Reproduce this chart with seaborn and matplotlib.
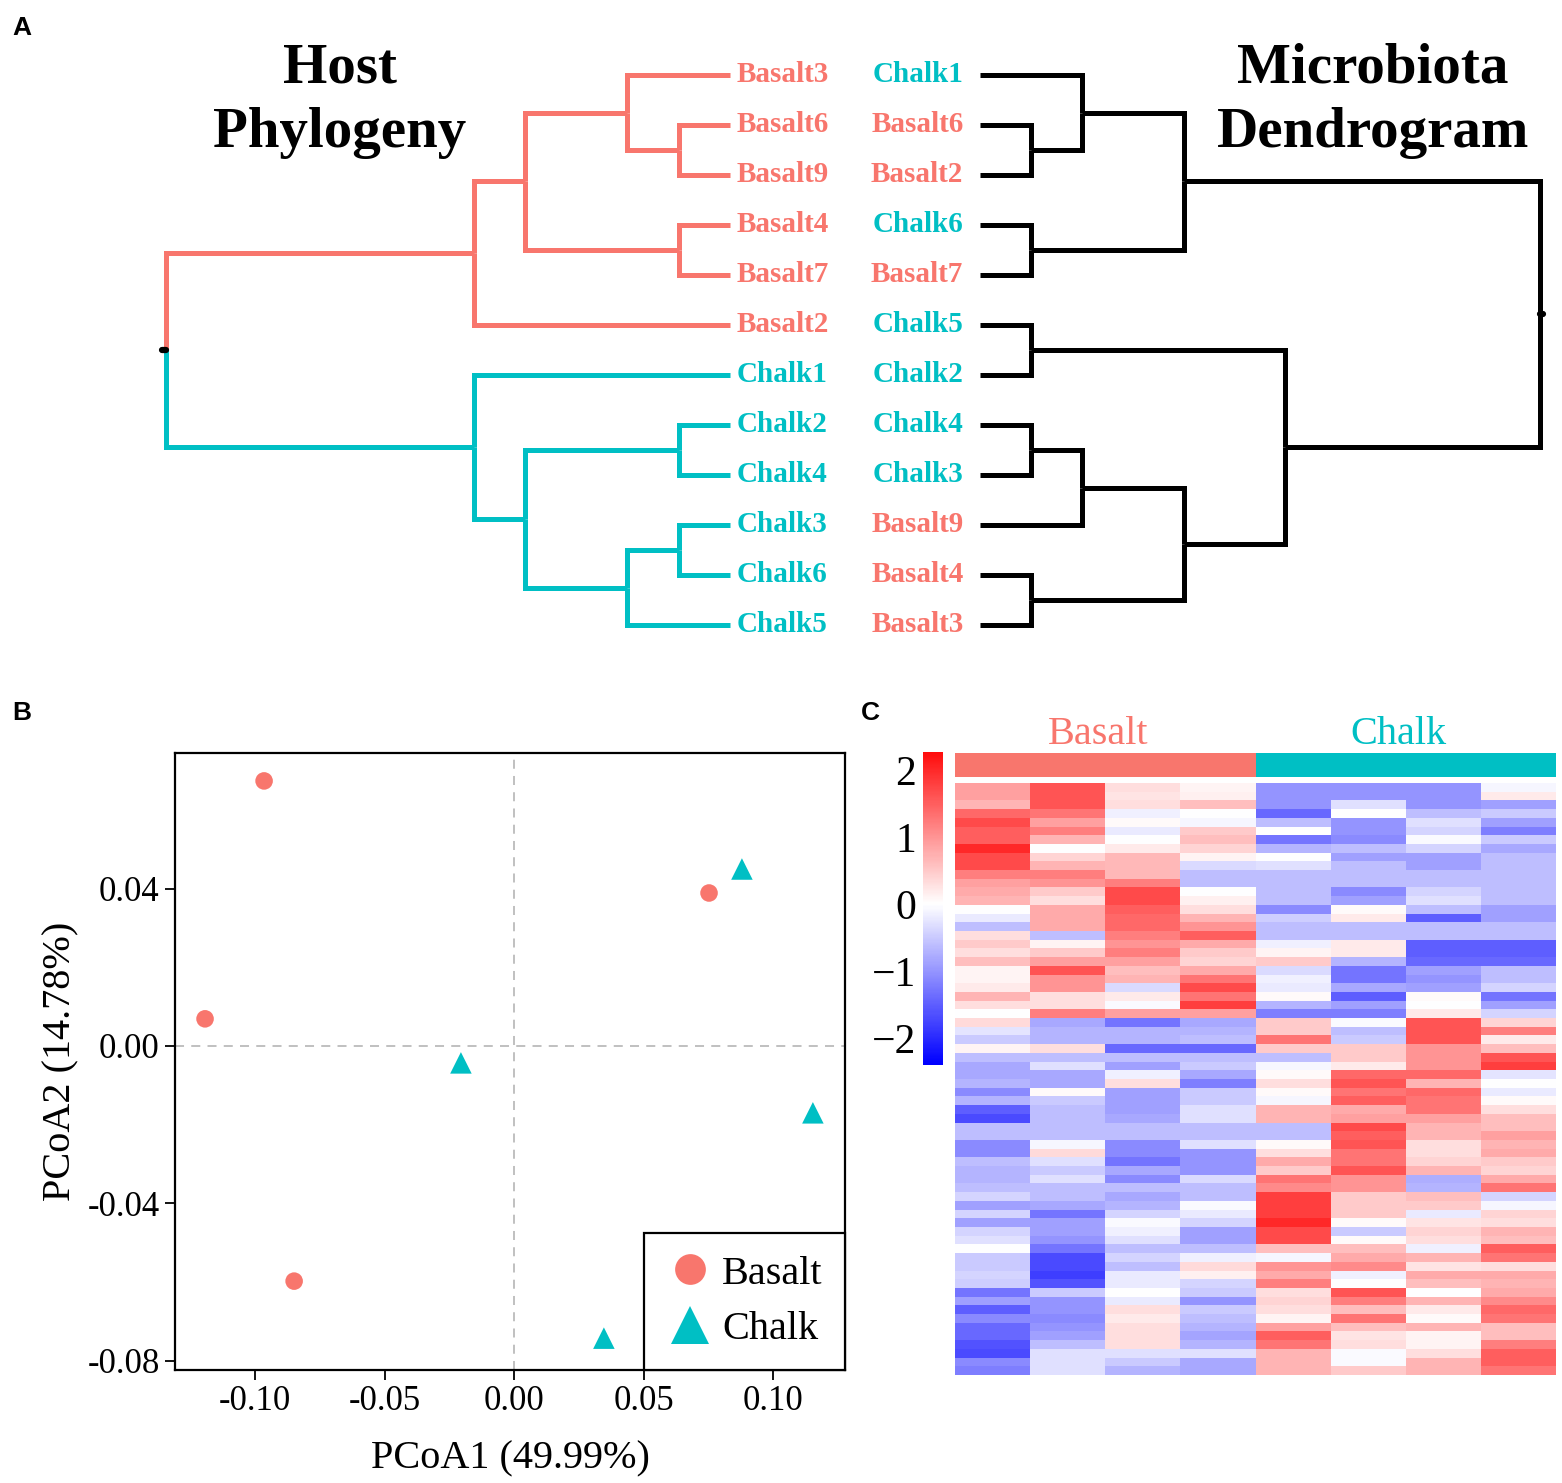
import numpy as np
import pandas as pd
import matplotlib
matplotlib.use('Agg')
import matplotlib.pyplot as plt
import seaborn as sns
from matplotlib.colors import ListedColormap
from matplotlib.ticker import FormatStrFormatter

sns.set_style('white')
plt.rcParams['font.family'] = ['Liberation Serif', 'DejaVu Serif']
plt.rcParams['axes.unicode_minus'] = True
for key in ['text.color', 'axes.labelcolor', 'xtick.color', 'ytick.color']:
    plt.rcParams[key] = 'black'

BASALT = '#F8766D'
CHALK = '#00BFC4'

# ---- panel A: trees as (height, upper, lower); leaves are sample names ----
host_tree = (11,
             (5, (4, (2, 'Basalt3', (1, 'Basalt6', 'Basalt9')), (1, 'Basalt4', 'Basalt7')), 'Basalt2'),
             (5, 'Chalk1', (4, (1, 'Chalk2', 'Chalk4'), (2, (1, 'Chalk3', 'Chalk6'), 'Chalk5'))))
micro_tree = (11,
              (4, (2, 'Chalk1', (1, 'Basalt6', 'Basalt2')), (1, 'Chalk6', 'Basalt7')),
              (6, (1, 'Chalk5', 'Chalk2'),
               (4, (2, (1, 'Chalk4', 'Chalk3'), 'Basalt9'), (1, 'Basalt4', 'Basalt3'))))

# ---- panel B: PCoA coordinates ----
pcoa_group = ['Basalt', 'Basalt', 'Basalt', 'Basalt', 'Chalk', 'Chalk', 'Chalk', 'Chalk']
pcoa1 = [-0.0965, 0.0753, -0.1193, -0.0849, 0.0880, -0.0205, 0.1154, 0.0347]
pcoa2 = [0.0674, 0.0389, 0.0069, -0.0598, 0.0450, -0.0043, -0.0170, -0.0743]

# ---- panel C: scaled abundance heatmap (rows = taxa, cols = samples) ----
heat_groups = ['Basalt', 'Basalt', 'Basalt', 'Basalt', 'Chalk', 'Chalk', 'Chalk', 'Chalk']
heat_values = [
    [0.9, 1.6, 0.3, 0.1, -1.0, -1.0, -1.0, -0.1],
    [0.9, 1.6, 0.25, 0.15, -1.0, -1.0, -1.0, 0.2],
    [0.7, 1.6, 0.3, 0.6, -1.0, -0.3, -1.0, -0.9],
    [1.4, 1.3, -0.15, 0.0, -1.4, 0.0, -0.6, -0.5],
    [1.7, 0.9, 0.05, -0.1, -0.6, -1.0, -0.3, -0.9],
    [1.5, 1.2, -0.2, 0.5, 0.0, -1.0, -0.4, -1.2],
    [1.5, 0.7, 0.0, 0.6, -1.3, -1.1, -0.05, -0.5],
    [2.0, 0.0, 0.2, 0.4, -0.7, -0.6, -0.4, -0.8],
    [1.7, 0.4, 0.65, 0.1, 0.0, -0.9, -0.9, -0.6],
    [1.7, 0.7, 0.65, -0.35, -0.3, -0.6, -0.9, -0.6],
    [1.2, 1.2, 0.65, -0.6, -0.6, -0.6, -0.6, -0.6],
    [0.9, 1.0, 1.2, -0.6, -0.6, -0.6, -0.6, -0.6],
    [0.8, 0.5, 1.7, 0.0, -0.6, -1.1, -0.4, -0.6],
    [0.7, 0.3, 1.7, 0.15, -0.6, -0.9, -0.3, -0.6],
    [0.0, 0.8, 1.5, 0.3, -1.1, 0.05, -0.6, -0.9],
    [-0.2, 0.8, 1.4, 0.7, -0.45, 0.2, -1.5, -0.9],
    [-0.6, 0.8, 1.4, 1.0, -0.6, -0.6, -0.6, -0.6],
    [0.3, -0.6, 1.2, 1.5, -0.6, -0.6, -0.6, -0.6],
    [0.5, 0.1, 1.0, 0.8, -0.15, 0.2, -1.5, -1.5],
    [0.3, 0.5, 1.2, 0.5, 0.1, 0.2, -1.5, -1.5],
    [0.6, 0.9, 0.9, 0.4, 0.5, -0.7, -1.4, -1.4],
    [0.1, 1.6, 0.6, 0.8, -0.35, -1.3, -0.9, -0.6],
    [0.1, 1.0, 0.7, 1.3, -0.15, -1.3, -1.0, -0.6],
    [0.2, 1.0, -0.35, 1.7, -0.2, -0.8, -0.9, -0.4],
    [0.7, 0.3, 0.2, 1.3, 0.05, -1.5, 0.05, -1.3],
    [0.3, 0.3, -0.05, 1.8, -0.7, -0.9, 0.0, -0.9],
    [0.0, 1.2, 0.9, 0.9, -1.2, -1.2, 0.2, -0.4],
    [0.35, -0.8, -1.3, -0.8, 0.5, -0.05, 1.6, 0.4],
    [-0.25, -0.7, -0.7, -0.7, 0.5, -0.6, 1.6, 1.2],
    [-0.5, -0.7, -0.7, -0.6, 1.3, -0.5, 1.6, 0.2],
    [0.1, 0.3, -1.4, -1.4, 0.5, 0.5, 1.0, 0.6],
    [-0.6, -0.6, -0.6, -0.6, -0.6, 0.5, 1.0, 1.6],
    [-0.8, -0.3, -0.9, -0.5, -0.1, 0.2, 1.0, 1.8],
    [-0.8, -0.8, -0.15, -0.8, 0.05, 1.4, 1.4, -0.25],
    [-0.7, -0.8, 0.3, -1.2, 0.3, 1.6, 0.7, 0.0],
    [-1.1, 0.05, -0.9, -0.5, 0.05, 1.3, 1.4, -0.2],
    [-0.7, -0.5, -0.9, -0.5, -0.1, 1.5, 1.3, 0.05],
    [-1.5, -0.6, -0.9, -0.3, 0.7, 0.8, 1.3, 0.3],
    [-1.7, -0.6, -0.8, -0.3, 0.7, 0.9, 0.9, 0.6],
    [-0.6, -0.6, -0.6, -0.6, -0.6, 1.7, 0.7, 0.6],
    [-0.6, -0.6, -0.6, -0.6, -0.6, 1.5, 0.7, 0.9],
    [-1.1, -0.1, -1.1, -0.3, 0.05, 1.6, 0.3, 0.7],
    [-1.1, 0.35, -1.1, -1.0, 0.3, 1.3, 0.3, 0.8],
    [-0.6, -0.3, -1.3, -1.0, 0.8, 1.3, 0.4, 0.5],
    [-0.7, -0.5, -0.8, -1.0, 0.5, 1.6, 0.7, 0.4],
    [-0.7, -0.3, -1.1, -0.35, 1.3, 1.0, -0.75, 0.8],
    [-0.6, -0.6, -0.6, -0.6, 1.1, 1.0, -0.7, 1.3],
    [-0.4, -0.6, -0.8, -0.6, 1.8, 0.5, 0.6, -0.4],
    [-0.9, -0.8, -0.7, -0.05, 1.8, 0.5, 0.5, -0.1],
    [-0.4, -1.3, -0.4, -0.2, 1.8, 0.5, -0.2, 0.4],
    [-0.9, -0.9, -0.05, -0.4, 2.0, 0.05, 0.25, 0.3],
    [-0.4, -0.9, -0.15, -0.9, 1.7, -0.5, 0.4, 0.7],
    [-0.3, -1.0, -0.3, -0.9, 1.7, 0.05, 0.3, 0.6],
    [0.0, -1.3, -0.6, -0.6, 0.6, 0.6, -0.15, 1.5],
    [-0.5, -1.7, -0.4, -0.15, -0.1, 0.8, 0.7, 1.3],
    [-0.5, -1.7, -0.6, 0.35, 1.0, 1.1, 0.25, 0.3],
    [-0.4, -1.8, -0.2, 0.15, 0.8, -0.15, 0.8, 0.8],
    [-0.45, -1.6, -0.2, -0.4, 1.2, 0.0, 0.6, 0.7],
    [-1.3, -0.5, 0.0, -0.5, 0.3, 1.6, 0.0, 0.8],
    [-0.9, -1.0, -0.2, -1.0, 0.4, 1.2, 0.7, 1.1],
    [-1.5, -1.0, 0.3, -0.5, 0.3, 0.6, 0.2, 1.4],
    [-1.1, -1.1, 0.2, -0.6, 0.1, 1.3, 0.05, 1.3],
    [-1.4, -1.0, 0.3, -0.7, 0.9, 0.6, 0.7, 0.6],
    [-1.4, -0.9, 0.3, -0.85, 1.5, 0.25, 0.1, 0.6],
    [-1.6, -0.6, 0.3, -0.7, 1.3, 0.3, 0.1, 1.2],
    [-1.7, -0.3, -0.3, -0.3, 0.7, -0.05, 0.3, 1.5],
    [-1.1, -0.3, -0.5, -0.8, 0.7, -0.05, 0.7, 1.5],
    [-1.2, -0.3, -0.7, -0.8, 0.7, 0.5, 0.7, 1.3],
]


def leaves(node):
    if isinstance(node, str):
        return [node]
    return leaves(node[1]) + leaves(node[2])


def group_color(node):
    names = leaves(node)
    if all(n.startswith('Basalt') for n in names):
        return BASALT
    if all(n.startswith('Chalk') for n in names):
        return CHALK
    return 'black'


def draw_tree(ax, node, order, colored, lw=3.6):
    # returns (y, height) of the node; draws elbows to children
    if isinstance(node, str):
        return order.index(node), 0
    h = node[0]
    kids = [draw_tree(ax, c, order, colored, lw) for c in node[1:]]
    y = np.mean([k[0] for k in kids])
    for child, (cy, ch) in zip(node[1:], kids):
        c = group_color(child) if colored else 'black'
        ax.plot([ch, h, h], [cy, cy, y], color=c, lw=lw,
                solid_joinstyle='miter', solid_capstyle='butt', clip_on=False)
    return y, h


W, H = 1562, 1483
fig = plt.figure(figsize=(W / 100, H / 100), dpi=100)
fig.patch.set_facecolor('white')


def px_axes(x0, y0, x1, y1):
    return fig.add_axes([x0 / W, 1 - y1 / H, (x1 - x0) / W, (y1 - y0) / H])


# ---------------- Panel A ----------------
host_order = leaves(host_tree)
micro_order = leaves(micro_tree)

ax_l = px_axes(166, 50, 730, 650)
ax_l.set_xlim(11, 0)
ax_l.set_ylim(11.5, -0.5)
ax_l.axis('off')
ry, rh = draw_tree(ax_l, host_tree, host_order, colored=True)
ax_l.plot([rh, rh + 0.08], [ry, ry], color='black', lw=4.5, solid_capstyle='round', clip_on=False)
for i, name in enumerate(host_order):
    ax_l.annotate(name, xy=(0, i), xytext=(5, 0), textcoords='offset points',
                  ha='left', va='center', fontsize=21, fontweight='bold',
                  color=BASALT if name.startswith('Basalt') else CHALK)

ax_r = px_axes(980, 50, 1540, 650)
ax_r.set_xlim(0, 11)
ax_r.set_ylim(11.5, -0.5)
ax_r.axis('off')
ry, rh = draw_tree(ax_r, micro_tree, micro_order, colored=False)
ax_r.plot([rh, rh + 0.06], [ry, ry], color='black', lw=4.5, solid_capstyle='round', clip_on=False)
for i, name in enumerate(micro_order):
    ax_r.annotate(name, xy=(0, i), xytext=(-12, 0), textcoords='offset points',
                  ha='right', va='center', fontsize=21, fontweight='bold',
                  color=BASALT if name.startswith('Basalt') else CHALK)

fig.text(340 / W, 1 - 101 / H, 'Host\nPhylogeny', ha='center', va='center',
         fontsize=41, fontweight='bold', linespacing=1.32)
fig.text(1373 / W, 1 - 101 / H, 'Microbiota\nDendrogram', ha='center', va='center',
         fontsize=41, fontweight='bold', linespacing=1.32)

# ---------------- Panel B ----------------
pcoa_df = pd.DataFrame({'PCoA1': pcoa1, 'PCoA2': pcoa2, 'group': pcoa_group})
ax_b = px_axes(175, 753, 845, 1370)
ax_b.axvline(0, color='#BBBBBB', lw=1.3, ls=(0, (5, 4)), zorder=0)
ax_b.axhline(0, color='#BBBBBB', lw=1.3, ls=(0, (5, 4)), zorder=0)
sns.scatterplot(data=pcoa_df, x='PCoA1', y='PCoA2', hue='group', style='group', size='group',
                hue_order=['Basalt', 'Chalk'], palette={'Basalt': BASALT, 'Chalk': CHALK},
                markers={'Basalt': 'o', 'Chalk': '^'}, sizes={'Basalt': 160, 'Chalk': 240},
                linewidth=0, ax=ax_b, zorder=3)
ax_b.set_xlim(-0.1309, 0.1278)
ax_b.set_ylim(-0.0824, 0.0745)
ax_b.set_xticks([-0.10, -0.05, 0.00, 0.05, 0.10])
ax_b.set_yticks([-0.08, -0.04, 0.00, 0.04])
ax_b.xaxis.set_major_formatter(FormatStrFormatter('%.2f'))
ax_b.yaxis.set_major_formatter(FormatStrFormatter('%.2f'))
ax_b.tick_params(direction='out', length=7, width=1.3, labelsize=25, color='black',
                 bottom=True, left=True, pad=4)
for sp in ax_b.spines.values():
    sp.set_color('black')
    sp.set_linewidth(1.6)
ax_b.set_xlabel('PCoA1 (49.99%)', fontsize=29, labelpad=16)
ax_b.set_ylabel('PCoA2 (14.78%)', fontsize=29, labelpad=6)
handles, labels = ax_b.get_legend_handles_labels()
leg = ax_b.legend(handles, labels, loc='lower right', borderaxespad=0, markerscale=1.75,
                  fontsize=29, frameon=True, fancybox=False, framealpha=1,
                  handletextpad=0.2, borderpad=0.55, labelspacing=0.45, handlelength=1.2)
leg.get_frame().set_edgecolor('black')
leg.get_frame().set_linewidth(1.6)

# ---------------- Panel C ----------------
heat_df = pd.DataFrame(heat_values, columns=[f'{g}{i}' for i, g in enumerate(heat_groups)])
ax_c = px_axes(955, 783, 1556, 1375)
cax = px_axes(923, 752, 943, 1065)
sns.heatmap(heat_df, ax=ax_c, cmap='bwr', vmin=-2.4, vmax=2.27, center=0,
            cbar_ax=cax, cbar_kws={'ticks': [-2, -1, 0, 1, 2]},
            xticklabels=False, yticklabels=False)
cb = ax_c.collections[0].colorbar
cb.outline.set_visible(False)
cax.yaxis.set_ticks_position('left')
cax.tick_params(length=0, labelsize=30, pad=5)

ax_g = px_axes(955, 753, 1556, 777)
grp_codes = np.array([[0 if g == 'Basalt' else 1 for g in heat_groups]])
sns.heatmap(grp_codes, ax=ax_g, cmap=ListedColormap([BASALT, CHALK]), cbar=False,
            xticklabels=False, yticklabels=False)
for g, col in [('Basalt', BASALT), ('Chalk', CHALK)]:
    idx = [i for i, v in enumerate(heat_groups) if v == g]
    ax_g.annotate(g, xy=(np.mean(idx) + 0.5, 0), xytext=(-5, 0), textcoords='offset points',
                  ha='center', va='bottom', fontsize=29, color=col, annotation_clip=False)

# panel letters
for letter, (x, y) in {'A': (22, 28), 'B': (22, 713), 'C': (870, 713)}.items():
    fig.text(x / W, 1 - y / H, letter, ha='center', va='center', fontsize=19,
             fontweight='bold', family=['Liberation Sans', 'DejaVu Sans'])

fig.savefig('out.png', dpi=100)
